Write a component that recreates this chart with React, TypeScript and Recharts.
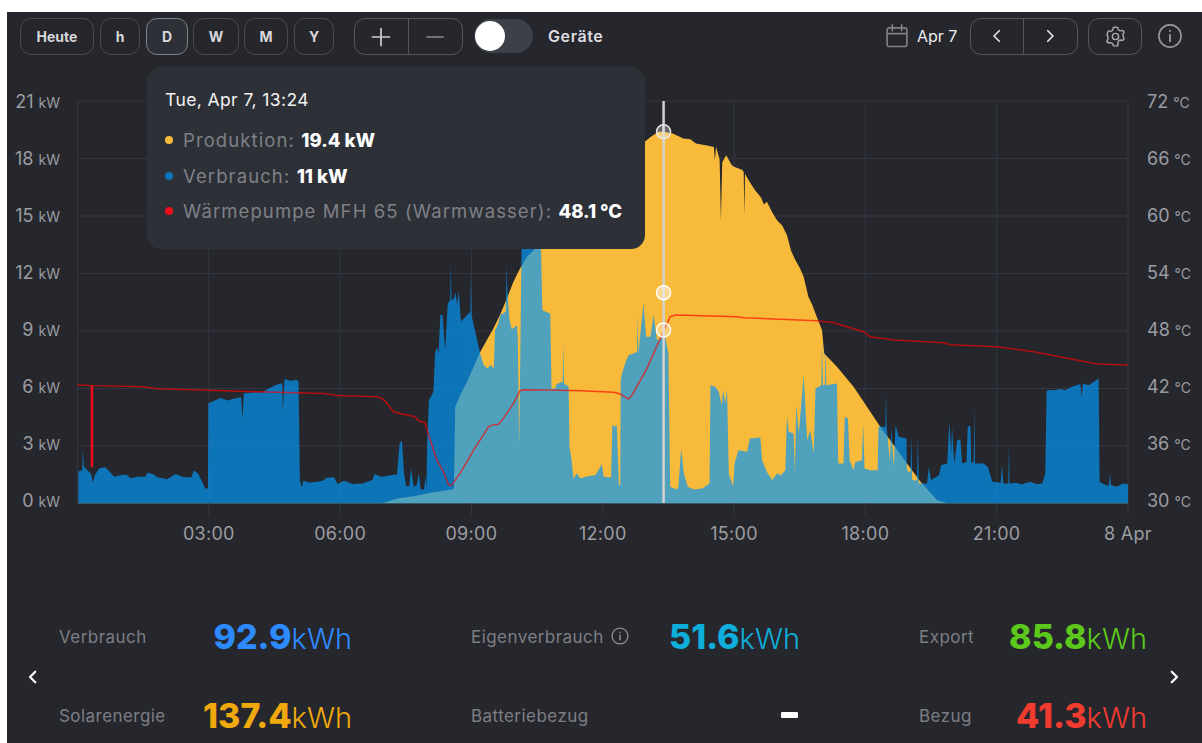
import {
  ComposedChart,
  Area,
  Line,
  XAxis,
  YAxis,
  CartesianGrid,
  ReferenceLine,
  ReferenceDot,
} from 'recharts';

// [hour of day, kW]
const production: [number, number][] = [
  [6.91, 0], [7.07, 0.09], [7.3, 0.26], [7.68, 0.38], [8.06, 0.56], [8.55, 0.73], [8.6, 0.8], [8.63, 5.04],
  [8.74, 5.65], [8.9, 6.35], [9.05, 7.13], [9.2, 7.91], [9.35, 8.52], [9.5, 9.13], [9.66, 9.88], [9.81, 10.7],
  [9.96, 11.57], [10.11, 12.26], [10.27, 12.87], [10.46, 13.3], [11, 15.4], [11.5, 16.6], [12, 17.6], [12.5, 18.4],
  [12.96, 18.87], [13.1, 19.13], [13.27, 19.39], [13.39, 19.4], [13.6, 19.3], [13.84, 19.04], [14.0, 19.0],
  [14.13, 18.78], [14.41, 18.66], [14.54, 18.6], [14.56, 17.9], [14.59, 18.6], [14.67, 17.95], [14.7, 14.78],
  [14.73, 17.8], [14.82, 18.17], [14.95, 17.65], [15.0, 17.57], [15.19, 17.4], [15.22, 17.3], [15.235, 15.04], [15.25, 17.2],
  [15.35, 16.8], [15.48, 16.35], [15.62, 15.95], [15.68, 15.6], [15.75, 15.74], [15.87, 15.2], [15.98, 14.78], [16.1, 14.5], [16.21, 14.0],
  [16.3, 13.2], [16.4, 12.7], [16.5, 12.3], [16.59, 11.83], [16.7, 10.78], [16.78, 10.4], [16.86, 9.91], [17.01, 9.04], [17.06, 7.83],
  [17.35, 7.13], [17.73, 6.09], [18.04, 5.04], [18.34, 4.0], [18.65, 3.04], [18.95, 2.09], [19.26, 1.13], [19.64, 0.17],
  [19.87, 0.03], [20.17, 0],
];

const consumption: [number, number][] = [
  [0.02, 1.67], [0.06, 1.7], [0.11, 1.75], [0.12, 2.9], [0.145, 1.93], [0.23, 1.72], [0.31, 1.54], [0.35, 1.09],
  [0.4, 1.49], [0.5, 1.84], [0.63, 1.89], [0.73, 1.67], [0.84, 1.4], [0.98, 1.47], [1.11, 1.51], [1.22, 1.32],
  [1.36, 1.4], [1.55, 1.4], [1.6, 1.61], [1.73, 1.54], [1.82, 1.37], [2.05, 1.26], [2.24, 1.54], [2.43, 1.37],
  [2.6, 1.37], [2.66, 1.72], [2.75, 1.58], [2.85, 1.14], [2.92, 0.77], [2.98, 0.8], [2.99, 5.23], [3.11, 5.35],
  [3.27, 5.51], [3.42, 5.37], [3.57, 5.47], [3.74, 5.56], [3.77, 4.39], [3.8, 5.75], [4.03, 5.79], [4.22, 5.79],
  [4.34, 5.96], [4.53, 6.18], [4.68, 6.28], [4.69, 4.74], [4.73, 6.49], [4.87, 6.39], [5.01, 6.46], [5.05, 6.32],
  [5.08, 1.23], [5.12, 0.84], [5.16, 1.19], [5.29, 1.09], [5.44, 1.12], [5.6, 1.19], [5.69, 1.33], [5.86, 1.37],
  [5.94, 1.02], [6.09, 1.19], [6.28, 1.02], [6.51, 1.04], [6.74, 1.23], [6.79, 1.54], [6.93, 1.4], [7.07, 1.43],
  [7.3, 1.53], [7.36, 3.13], [7.41, 3.3], [7.46, 1.57], [7.51, 0.9], [7.58, 0.9], [7.62, 1.83], [7.68, 0.87],
  [7.75, 0.96], [7.8, 1.57], [7.84, 0.73], [7.92, 0.73], [7.95, 1.48], [7.97, 0.7], [7.99, 3.3], [8.03, 5.39],
  [8.13, 5.83], [8.17, 7.83], [8.21, 8.17], [8.25, 7.83], [8.29, 9.83], [8.34, 9.83], [8.4, 8.0], [8.46, 10.43],
  [8.515, 10.6], [8.53, 12.5], [8.545, 10.6], [8.6, 10.7], [8.64, 11.0], [8.67, 10.35], [8.71, 11.1], [8.76, 9.5],
  [8.9, 9.83], [8.975, 10.0], [8.99, 12.0], [9.005, 9.8], [9.08, 9.04], [9.2, 7.83], [9.28, 7.22], [9.37, 7.04],
  [9.43, 7.22], [9.51, 7.04], [9.54, 9.04], [9.6, 9.3], [9.66, 9.83], [9.785, 10.0], [9.8, 12.43], [9.82, 11.1],
  [9.87, 9.57], [9.92, 9.08], [10.04, 9.3], [10.06, 8.52], [10.09, 2.96], [10.12, 8.5], [10.15, 14.5], [10.34, 15],
  [10.57, 15], [10.59, 13.2], [10.62, 10.09], [10.69, 10.0], [10.8, 9.91], [10.83, 6.0], [10.91, 6.0], [10.95, 6.23],
  [11.085, 6.35], [11.1, 8.35], [11.115, 6.26], [11.22, 6.1], [11.24, 2.96], [11.29, 2.26], [11.33, 1.3], [11.41, 1.57],
  [11.49, 1.3], [11.68, 1.43], [11.83, 1.48], [11.98, 2.05], [12.02, 1.39], [12.19, 1.36], [12.22, 4.09], [12.28, 4.0],
  [12.32, 4.09], [12.37, 0.96], [12.4, 0.96], [12.41, 6.43], [12.44, 6.78], [12.51, 7.3], [12.59, 7.74], [12.785, 7.91],
  [12.8, 9.95], [12.815, 7.83], [12.93, 10.43], [12.99, 8.7], [13.09, 8.7], [13.16, 9.83], [13.24, 8.52], [13.37, 8.7],
  [13.39, 11], [13.41, 8.9], [13.5, 7.83], [13.54, 0.87], [13.68, 0.73], [13.73, 0.87], [13.79, 2.87], [13.85, 1.6],
  [13.94, 0.87], [14.08, 0.73], [14.27, 0.78], [14.44, 1.04], [14.46, 6.17], [14.57, 6.09], [14.65, 5.83], [14.72, 5.13],
  [14.75, 5.91], [14.8, 5.22], [14.84, 5.91], [14.88, 1.57], [14.98, 0.87], [15.01, 2.09], [15.1, 2.78], [15.3, 2.7],
  [15.36, 3.39], [15.6, 3.44], [15.64, 2.26], [15.75, 1.65], [15.87, 1.22], [15.98, 1.57], [16.07, 1.48], [16.17, 1.74],
  [16.21, 4.52], [16.25, 3.74], [16.36, 3.65], [16.39, 1.57], [16.42, 5.13], [16.48, 3.65], [16.59, 6.7], [16.67, 3.3],
  [16.74, 3.83], [16.82, 2.61], [16.86, 6.0], [16.995, 6.17], [17.01, 8.35], [17.03, 6.17], [17.075, 6.17], [17.09, 8.35], [17.105, 6.17],
  [17.35, 6.26], [17.38, 2.09], [17.5, 2.09], [17.53, 4.52], [17.6, 4.43], [17.64, 2.26], [17.73, 1.74], [17.77, 2.17],
  [17.92, 2.26], [17.95, 4.17], [17.98, 1.83], [18.11, 1.74], [18.28, 1.74], [18.3, 4.0], [18.455, 4.0], [18.47, 5.74],
  [18.485, 4.0], [18.56, 2.26], [18.59, 3.91], [18.65, 1.91], [18.69, 4.09], [18.76, 3.48], [18.94, 3.39], [18.95, 1.74],
  [19.03, 1.6], [19.05, 3.48], [19.07, 1.22], [19.18, 1.2], [19.2, 3.48], [19.22, 1.04], [19.41, 1.04], [19.45, 1.91], [19.5, 1.22], [19.68, 1.48],
  [19.73, 2.0], [19.87, 2.09], [19.92, 4.26], [19.96, 2.61], [19.98, 3.97], [20.03, 2.09], [20.1, 3.3], [20.17, 3.34],
  [20.21, 2.09], [20.31, 2.17], [20.34, 4.03], [20.4, 4.03], [20.42, 2.12], [20.475, 2.17], [20.49, 5.04], [20.505, 2.09],
  [20.7, 2.09], [20.8, 1.91], [20.9, 1.13], [21.09, 1.08], [21.12, 2.0], [21.15, 1.04], [21.265, 1.04], [21.28, 3.04],
  [21.295, 1.04], [21.43, 1.08], [21.58, 1.01], [21.77, 1.13], [21.92, 1.01], [22.04, 1.04], [22.11, 1.57], [22.14, 5.74],
  [22.15, 5.91], [22.3, 5.91], [22.46, 5.97], [22.57, 5.91], [22.72, 6.09], [22.91, 6.23], [22.94, 5.57], [22.97, 6.26],
  [23.1, 6.17], [23.22, 6.35], [23.33, 6.52], [23.35, 1.13], [23.45, 1.01], [23.56, 0.92], [23.59, 1.57], [23.61, 0.96],
  [23.75, 0.87], [23.89, 1.04], [23.98, 1.01], [24, 1.01],
];

// [hour of day, degrees C]
const temperature: [number, number][] = [
  [0, 42.39], [0.33, 42.3], [1.51, 42.18], [1.82, 41.97], [2.81, 41.84], [4.34, 41.63], [5.63, 41.49], [5.94, 41.28],
  [6.85, 41.14], [6.97, 40.93], [7.07, 40.45], [7.22, 39.57], [7.37, 39.4], [7.71, 39.05], [7.79, 38.63], [7.94, 38.43],
  [8.06, 36.62], [8.21, 34.53], [8.36, 33.31], [8.48, 31.92], [8.55, 31.92], [8.74, 33.14], [9.05, 35.57], [9.39, 38.0],
  [9.47, 38.18], [9.62, 38.26], [9.73, 38.88], [9.96, 40.45], [10.11, 41.77], [10.19, 41.87], [10.72, 41.84],
  [11.49, 41.77], [12.25, 41.6], [12.4, 41.42], [12.59, 40.9], [12.67, 41.32], [13.01, 44.1], [13.4, 48.1], [13.47, 48.8],
  [13.54, 49.49], [13.66, 49.67], [15.07, 49.49], [15.22, 49.39], [16.89, 49.07], [17.28, 48.87], [17.58, 48.45],
  [17.96, 47.93], [18.11, 47.4], [18.65, 47.06], [19.79, 46.78], [19.94, 46.57], [21.01, 46.36], [21.85, 45.84],
  [22.61, 45.15], [23.3, 44.55], [24, 44.45],
];

const temperatureDip: [number, number][] = [[0.33, 42.3], [0.33, 33.8]];

const hourTicks = [0, 3, 6, 9, 12, 15, 18, 21, 24];
const hourLabels = ['', '03:00', '06:00', '09:00', '12:00', '15:00', '18:00', '21:00', '8 Apr'];
const kwTicks = [0, 3, 6, 9, 12, 15, 18, 21];
const tempTicks = [30, 36, 42, 48, 54, 60, 66, 72];

const rangeButtons = [
  { label: 'Heute', left: 20, width: 74 },
  { label: 'h', left: 100, width: 40 },
  { label: 'D', left: 146, width: 42, active: true },
  { label: 'W', left: 193, width: 46 },
  { label: 'M', left: 244, width: 44 },
  { label: 'Y', left: 294, width: 40 },
];

const tooltipRows = [
  { color: '#F7BA3B', name: 'Produktion:', value: '19.4 kW', top: 140 },
  { color: '#0F73B8', name: 'Verbrauch:', value: '11 kW', top: 176 },
  { color: '#F00D1A', name: 'Wärmepumpe MFH 65 (Warmwasser):', value: '48.1 °C', top: 211 },
];

const stats = [
  { label: 'Verbrauch', value: '92.9', color: '#2E8BFF', labelX: 59, right: 352, top: 637 },
  { label: 'Solarenergie', value: '137.4', color: '#EFA90C', labelX: 59, right: 352, top: 716 },
  { label: 'Eigenverbrauch', value: '51.6', color: '#0DAEDB', labelX: 471, right: 800, top: 637 },
  { label: 'Export', value: '85.8', color: '#5CC81B', labelX: 919, right: 1147, top: 637 },
  { label: 'Bezug', value: '41.3', color: '#F03B2F', labelX: 919, right: 1147, top: 716 },
];

const FONT = 'Inter, "Noto Sans", sans-serif';
const GRID = '#343741';
const BG = '#26272D';
const BORDER = '#55565C';

const pairs = (list: [number, number][], key: string) => list.map(([hour, v]) => ({ hour, [key]: v }));

// labels in the original sit a little tighter than the grid lines
function KwTick({ y, payload }: any) {
  return (
    <text x={60} y={y + 6.5 - (21 - payload.value) * 0.12} textAnchor="end" fontFamily={FONT} fill="#9B9CA1">
      <tspan fontSize={18}>{payload.value}</tspan>
      <tspan fontSize={14} dx={5}>kW</tspan>
    </text>
  );
}

function TempTick({ y, payload }: any) {
  return (
    <text x={1147} y={y + 6.5 - (72 - payload.value) * 0.06} textAnchor="start" fontFamily={FONT} fill="#9B9CA1">
      <tspan fontSize={18}>{payload.value}</tspan>
      <tspan fontSize={14} dx={5}>°C</tspan>
    </text>
  );
}

function HourTick({ x, payload }: any) {
  if (payload.value === 0) return null;
  return (
    <g>
      <line x1={x} x2={x} y1={503} y2={515} stroke={GRID} />
      <text x={x} y={540} textAnchor="middle" fontFamily={FONT} fontSize={18} letterSpacing={0.3} fill="#9B9CA1">
        {hourLabels[hourTicks.indexOf(payload.value)]}
      </text>
    </g>
  );
}

function Chart() {
  return (
    <ComposedChart
      width={1202}
      height={560}
      margin={{ top: 101, right: 14, bottom: 16.5, left: 7.5 }}
      style={{ position: 'absolute', left: 0, top: 0 }}
    >
      <CartesianGrid yAxisId="kw" stroke={GRID} verticalValues={hourTicks} horizontalValues={kwTicks} />
      <XAxis
        dataKey="hour"
        type="number"
        domain={[0, 24]}
        ticks={hourTicks}
        interval={0}
        height={40}
        tickLine={false}
        axisLine={{ stroke: '#3F5666' }}
        tick={<HourTick />}
        allowDuplicatedCategory
      />
      <YAxis yAxisId="kw" domain={[0, 21]} ticks={kwTicks} width={70} axisLine={false} tickLine={false} tick={<KwTick />} />
      <YAxis
        yAxisId="temp"
        orientation="right"
        domain={[30, 72]}
        ticks={tempTicks}
        width={60}
        axisLine={false}
        tickLine={false}
        tick={<TempTick />}
      />
      <Area
        yAxisId="kw"
        data={pairs(production, 'production')}
        dataKey="production"
        type="linear"
        stroke="none"
        fill="#F7BA3B"
        fillOpacity={1}
        dot={false}
        activeDot={false}
        isAnimationActive={false}
      />
      <Area
        yAxisId="kw"
        data={pairs(consumption, 'consumption')}
        dataKey="consumption"
        type="linear"
        stroke="none"
        fill="#0596F7"
        fillOpacity={0.69}
        dot={false}
        activeDot={false}
        isAnimationActive={false}
      />
      <Line
        yAxisId="temp"
        data={pairs(temperature, 'temperature')}
        dataKey="temperature"
        type="linear"
        stroke="#FF0000"
        strokeOpacity={0.65}
        strokeWidth={1.5}
        dot={false}
        activeDot={false}
        isAnimationActive={false}
      />
      <Line
        yAxisId="temp"
        data={pairs(temperatureDip, 'dip')}
        dataKey="dip"
        type="linear"
        stroke="#F00D1A"
        strokeWidth={2.5}
        dot={false}
        activeDot={false}
        isAnimationActive={false}
      />
      <ReferenceLine yAxisId="kw" x={13.39} stroke="#D2D2D2" strokeWidth={2.5} />
      <ReferenceDot yAxisId="kw" x={13.39} y={19.4} r={7} fill="#FFFFFF" fillOpacity={0.3} stroke="#E6E6E6" strokeWidth={1.5} />
      <ReferenceDot yAxisId="kw" x={13.39} y={11} r={7} fill="#FFFFFF" fillOpacity={0.45} stroke="#FFFFFF" strokeWidth={1.5} />
      <ReferenceDot yAxisId="temp" x={13.39} y={48.1} r={7} fill="#FFFFFF" fillOpacity={0.3} stroke="#FFFFFF" strokeWidth={1.5} />
    </ComposedChart>
  );
}

const box = (left: number, top: number, width: number, height: number): React.CSSProperties => ({
  position: 'absolute',
  left,
  top,
  width,
  height,
  boxSizing: 'border-box',
});

const centered: React.CSSProperties = { display: 'flex', alignItems: 'center', justifyContent: 'center' };

function Icon({ left, top, size, children }: any) {
  return (
    <svg
      style={{ position: 'absolute', left, top }}
      width={size}
      height={size}
      viewBox="0 0 24 24"
      fill="none"
      strokeLinecap="round"
      strokeLinejoin="round"
    >
      {children}
    </svg>
  );
}

function Header() {
  return (
    <>
      {rangeButtons.map((b) => (
        <div
          key={b.label}
          style={{
            ...box(b.left, 18, b.width, 37),
            ...centered,
            border: `1px solid ${b.active ? '#808186' : '#4A4B51'}`,
            background: b.active ? '#2E3037' : 'transparent',
            borderRadius: 11,
            color: '#D8D8DA',
            fontSize: 14,
            fontWeight: 700,
          }}
        >
          {b.label}
        </div>
      ))}
      <div style={{ ...box(354, 18, 109, 37), border: `1px solid ${BORDER}`, borderRadius: 11 }} />
      <div style={{ ...box(408, 18, 1, 37), background: BORDER }} />
      <Icon left={369} top={25} size={24}>
        <path d="M12 3.5v17M3.5 12h17" stroke="#D0D0D2" strokeWidth={1.7} />
      </Icon>
      <Icon left={423} top={25} size={24}>
        <path d="M4 12h16" stroke="#8A8B8F" strokeWidth={1.7} />
      </Icon>
      <div style={{ ...box(474, 19, 59, 34), background: '#3C4049', borderRadius: 17 }} />
      <div style={{ ...box(475, 21, 30, 30), background: '#FFFFFF', borderRadius: 15 }} />
      <div style={{ position: 'absolute', left: 548, top: 26, fontSize: 16, letterSpacing: 0.6, fontWeight: 600, color: '#DEDEE0' }}>Geräte</div>

      <Icon left={883} top={22} size={28}>
        <path d="M3.5 7a2 2 0 0 1 2-2h13a2 2 0 0 1 2 2v12a2 2 0 0 1-2 2h-13a2 2 0 0 1-2-2zM3.5 10h17M8 2.5v5M16 2.5v5" stroke="#808186" strokeWidth={1.4} />
      </Icon>
      <div style={{ position: 'absolute', left: 917, top: 26, fontSize: 16, color: '#EDEDEF' }}>Apr 7</div>
      <div style={{ ...box(970, 18, 108, 37), border: `1px solid ${BORDER}`, borderRadius: 11 }} />
      <div style={{ ...box(1023, 18, 1, 37), background: BORDER }} />
      <Icon left={988} top={27} size={18}>
        <path d="M15 5l-7 7 7 7" stroke="#E6E6E8" strokeWidth={2.2} />
      </Icon>
      <Icon left={1041} top={27} size={18}>
        <path d="M9 5l7 7-7 7" stroke="#E6E6E8" strokeWidth={2.2} />
      </Icon>
      <div style={{ ...box(1088, 18, 54, 37), border: `1px solid ${BORDER}`, borderRadius: 11 }} />
      <Icon left={1103} top={24} size={25}>
        <path
          d="M12 3l2 .4.8 2.2 1.8 1 2.3-.5 1.3 1.6-.9 2.2v2.1l1 2.2-1.4 1.6-2.3-.5-1.8 1L14 21h-4l-.8-2.2-1.8-1-2.3.5-1.4-1.6 1-2.2v-2.1l-.9-2.2L5.1 6.6l2.3.5 1.8-1L10 3.4z"
          stroke="#A9AAAE"
          strokeWidth={1.4}
        />
        <circle cx={12} cy={12} r={3} stroke="#A9AAAE" strokeWidth={1.4} />
      </Icon>
      <Icon left={1156} top={22} size={28}>
        <circle cx={12} cy={12} r={9.5} stroke="#96979B" strokeWidth={1.4} />
        <path d="M12 11v5.5M12 7.5v.2" stroke="#96979B" strokeWidth={1.6} />
      </Icon>
    </>
  );
}

function ChartTooltip() {
  return (
    <div style={{ ...box(147, 67, 498, 182), background: '#2E3038', borderRadius: 14 }}>
      <div style={{ position: 'absolute', left: 18, top: 22, fontSize: 17.5, letterSpacing: 0.4, color: '#F2F2F3', whiteSpace: 'nowrap' }}>
        Tue, Apr 7, 13:24
      </div>
      {tooltipRows.map((r) => (
        <div key={r.name}>
          <div style={{ ...box(18, r.top - 67 - 4, 8, 8), borderRadius: 4, background: r.color }} />
          <div
            style={{
              position: 'absolute',
              left: 36,
              top: r.top - 67 - 12,
              fontSize: 18.5,
              letterSpacing: 1.1,
              lineHeight: '24px',
              color: '#7F8086',
              whiteSpace: 'nowrap',
            }}
          >
            {r.name} <span style={{ color: '#FFFFFF', fontWeight: 800, fontSize: 18.5, letterSpacing: 0 }}>{r.value}</span>
          </div>
        </div>
      ))}
    </div>
  );
}

function Stats() {
  return (
    <>
      {stats.map((s) => (
        <div key={s.label}>
          <div style={{ position: 'absolute', left: s.labelX, top: s.top - 12, fontSize: 17, letterSpacing: 0.45, lineHeight: '24px', color: '#7D7E84' }}>
            {s.label}
          </div>
          <div
            style={{
              position: 'absolute',
              right: 1202 - s.right,
              top: s.top - 28,
              lineHeight: '56px',
              color: s.color,
              whiteSpace: 'nowrap',
            }}
          >
            <span style={{ fontSize: 34, fontWeight: 800 }}>{s.value}</span>
            <span style={{ fontSize: 29, fontWeight: 300 }}>kWh</span>
          </div>
        </div>
      ))}
      <div style={{ position: 'absolute', left: 471, top: 704, fontSize: 17, letterSpacing: 0.45, lineHeight: '24px', color: '#7D7E84' }}>Batteriebezug</div>
      <div style={{ ...box(781, 712, 17, 6), background: '#FFFFFF', borderRadius: 1 }} />
      <Icon left={610} top={626} size={20}>
        <circle cx={12} cy={12} r={9.5} stroke="#8F9094" strokeWidth={1.6} />
        <path d="M12 11v5.5M12 7.5v.2" stroke="#8F9094" strokeWidth={1.8} />
      </Icon>
      <Icon left={24} top={668} size={18}>
        <path d="M15 5l-7 7 7 7" stroke="#FFFFFF" strokeWidth={3} />
      </Icon>
      <Icon left={1165} top={668} size={18}>
        <path d="M9 5l7 7-7 7" stroke="#FFFFFF" strokeWidth={3} />
      </Icon>
    </>
  );
}

export default function App() {
  return (
    <div style={{ position: 'absolute', left: 0, top: 0, width: 1202, height: 743, overflow: 'hidden', background: '#FFFFFF', fontFamily: FONT }}>
      <div style={{ ...box(7, 12, 1195, 731), background: BG }} />
      <Chart />
      <Header />
      <ChartTooltip />
      <Stats />
    </div>
  );
}
